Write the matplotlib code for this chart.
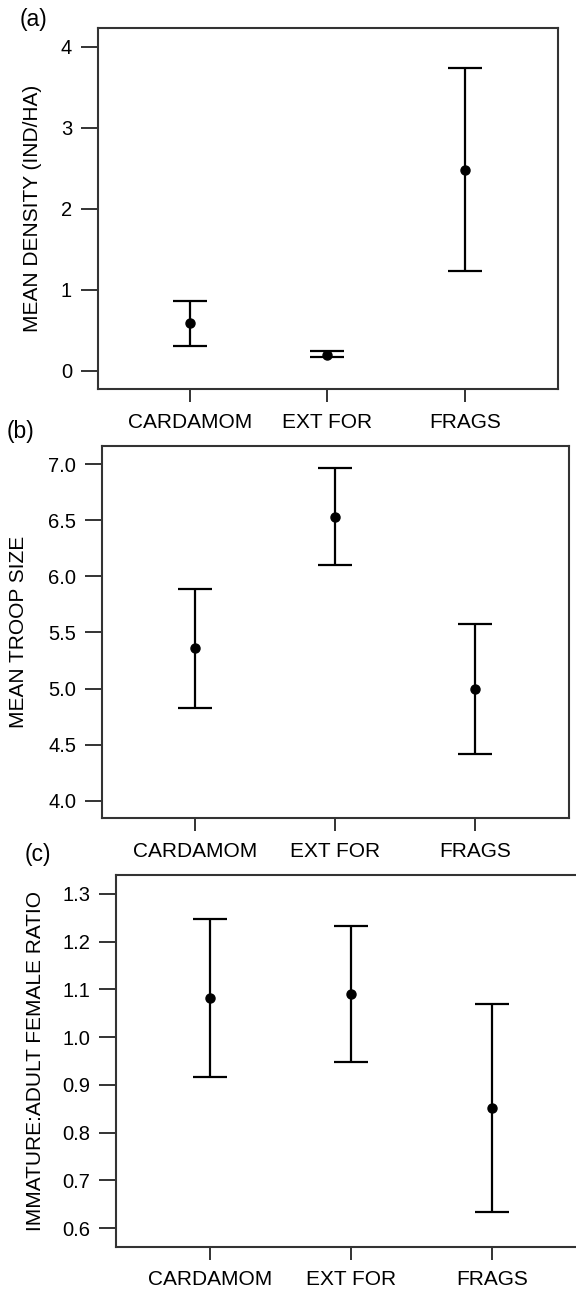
import matplotlib
matplotlib.use("Agg")
import matplotlib.pyplot as plt

plt.rcParams['font.family'] = ['Liberation Sans', 'DejaVu Sans']

# Habitat categories shared by all three panels
habitats = ['CARDAMOM', 'EXT FOR', 'FRAGS']
xpos = [1, 2, 3]

# (a) density, individuals per hectare
density_mean = [0.59, 0.20, 2.48]
density_low = [0.31, 0.165, 1.235]
density_high = [0.865, 0.24, 3.737]

# (b) troop size
troop_mean = [5.364, 6.533, 4.998]
troop_low = [4.829, 6.104, 4.416]
troop_high = [5.890, 6.964, 5.578]

# (c) immature to adult female ratio
ratio_mean = [1.081, 1.090, 0.851]
ratio_low = [0.916, 0.948, 0.634]
ratio_high = [1.247, 1.232, 1.069]

W, H = 576, 1289
fig = plt.figure(figsize=(W / 100, H / 100), dpi=100)


def px_axes(left, right, top, bottom):
    return fig.add_axes([left / W, 1 - bottom / H, (right - left) / W, (bottom - top) / H])


def draw_panel(ax, mean, low, high, ylim, yticks, fmt, ylabel, label_x):
    err = [[m - l for m, l in zip(mean, low)], [h - m for m, h in zip(mean, high)]]
    ax.errorbar(xpos, mean, yerr=err, fmt='o', color='black', ms=6.5,
                elinewidth=1.6, capsize=12.5, capthick=1.6)
    ax.set_xlim(0.333, 3.67)
    ax.set_ylim(*ylim)
    ax.set_xticks(xpos)
    ax.set_xticklabels(habitats, fontsize=15)
    ax.set_yticks(yticks)
    ax.set_yticklabels([fmt.format(v) for v in yticks], fontsize=14.5)
    ax.tick_params(axis='x', direction='out', length=9, width=1.4, color='#333333', pad=8)
    ax.tick_params(axis='y', direction='out', length=12.5, width=1.4, color='#333333', pad=6)
    for s in ax.spines.values():
        s.set_linewidth(1.5)
        s.set_color('#333333')
    ax.set_ylabel(ylabel, fontsize=15)
    ax.yaxis.set_label_coords(label_x, 0.5)


ax_a = px_axes(97.7, 557.7, 28.3, 389)
draw_panel(ax_a, density_mean, density_low, density_high, (-0.226, 4.23),
           [0, 1, 2, 3, 4], '{:.0f}', 'MEAN DENSITY (IND/HA)', -0.12)

ax_b = px_axes(101.7, 569.3, 446, 818.3)
draw_panel(ax_b, troop_mean, troop_low, troop_high, (3.843, 7.163),
           [4.0, 4.5, 5.0, 5.5, 6.0, 6.5, 7.0], '{:.1f}', 'MEAN TROOP SIZE', -0.158)

ax_c = px_axes(116, 587, 875.3, 1246.7)
draw_panel(ax_c, ratio_mean, ratio_low, ratio_high, (0.561, 1.339),
           [0.6, 0.7, 0.8, 0.9, 1.0, 1.1, 1.2, 1.3], '{:.1f}',
           'IMMATURE:ADULT FEMALE RATIO', -0.151)

# panel letters
for txt, x, y in [('(a)', 20, 8), ('(b)', 7, 420), ('(c)', 25, 843)]:
    fig.text(x / W, 1 - y / H, txt, fontsize=16.5, ha='left', va='top')

fig.savefig('out.png', dpi=100, facecolor='white')
